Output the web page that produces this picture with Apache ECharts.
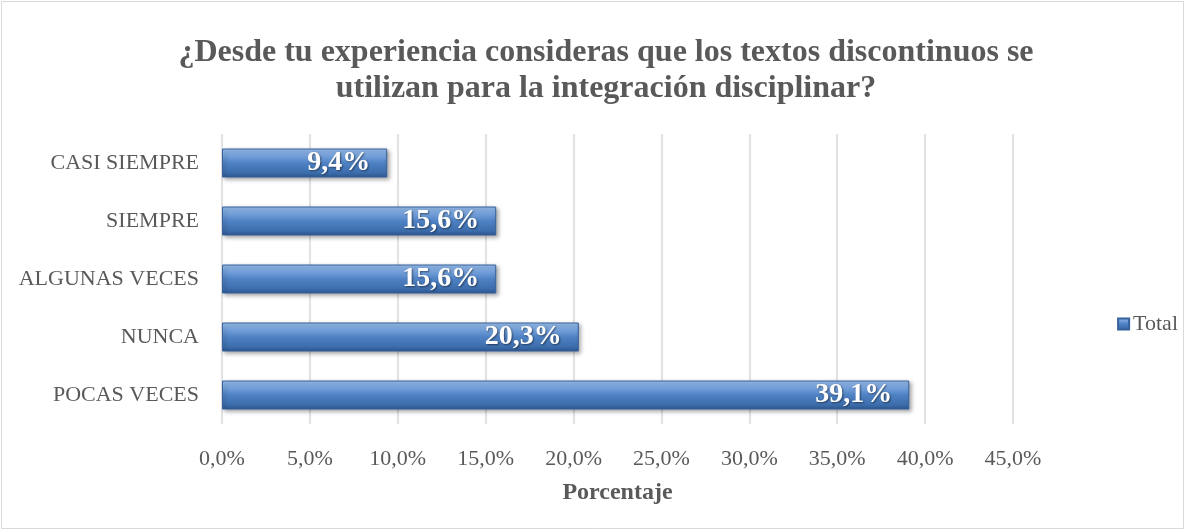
<!DOCTYPE html>
<html>
<head>
<meta charset="utf-8">
<script src="https://cdn.jsdelivr.net/npm/echarts@6/dist/echarts.min.js"></script>
<style>
  html, body { margin: 0; padding: 0; background: #fff; }
  #chart { width: 1186px; height: 531px; }
</style>
</head>
<body>
<div id="chart"></div>
<script>
  // categorias de abajo hacia arriba
  var categorias = ['POCAS VECES', 'NUNCA', 'ALGUNAS VECES', 'SIEMPRE', 'CASI SIEMPRE'];
  var valores = [39.1, 20.3, 15.6, 15.6, 9.4];
  var ticks = [0, 5, 10, 15, 20, 25, 30, 35, 40, 45];

  var fuente = '"Liberation Serif", "DejaVu Serif", serif';
  var gris = '#595959';

  function pct(v) {
    return v.toFixed(1).replace('.', ',') + '%';
  }

  var chart = echarts.init(document.getElementById('chart'));
  var option = {
    backgroundColor: '#fff',
    textStyle: { fontFamily: fuente },
    graphic: [{
      type: 'rect',
      shape: { x: 1.5, y: 1.5, width: 1182, height: 527 },
      style: { fill: 'none', stroke: '#d9d9d9', lineWidth: 1 }
    }],
    title: {
      text: '¿Desde tu experiencia consideras que los textos discontinuos se\nutilizan para la integración disciplinar?',
      left: 601,
      textAlign: 'center',
      top: 30,
      textStyle: {
        fontFamily: fuente,
        fontWeight: 'bold',
        fontSize: 32,
        color: gris,
        lineHeight: 36
      }
    },
    legend: {
      right: 3,
      top: 308,
      itemWidth: 11,
      itemHeight: 11,
      icon: 'rect',
      itemGap: 4,
      textStyle: { fontFamily: fuente, fontSize: 22, color: gris, padding: [0, 0, 0, -1] },
      data: ['Total']
    },
    grid: { left: 222, right: 173, top: 134, bottom: 107 },
    xAxis: {
      type: 'value',
      min: 0,
      max: 45,
      interval: 5,
      name: 'Porcentaje',
      nameLocation: 'middle',
      nameGap: 57,
      nameTextStyle: { fontFamily: fuente, fontWeight: 'bold', fontSize: 24, color: gris },
      axisLine: { show: false },
      axisTick: { show: false },
      axisLabel: {
        fontFamily: fuente, fontSize: 22, color: gris, margin: 24,
        formatter: function (v) { return ticks.indexOf(v) >= 0 ? pct(v) : ''; }
      },
      splitLine: { lineStyle: { color: '#d9d9d9', width: 1.5 } }
    },
    yAxis: {
      type: 'category',
      data: categorias,
      axisLine: { show: false },
      axisTick: { show: false },
      axisLabel: { fontFamily: fuente, fontSize: 22, color: gris, margin: 23 }
    },
    series: [{
      name: 'Total',
      type: 'bar',
      data: valores,
      barWidth: 29,
      itemStyle: {
        color: new echarts.graphic.LinearGradient(0, 0, 0, 1, [
          { offset: 0, color: '#9cc1ec' },
          { offset: 0.18, color: '#7fa9e0' },
          { offset: 0.5, color: '#4f82c4' },
          { offset: 0.85, color: '#3c6cab' },
          { offset: 1, color: '#2c5690' }
        ]),
        borderColor: '#35619c',
        borderWidth: 1,
        shadowColor: 'rgba(0,0,0,0.35)',
        shadowBlur: 4,
        shadowOffsetX: 2,
        shadowOffsetY: 2
      },
      label: {
        show: true,
        position: 'insideRight',
        distance: 17,
        fontFamily: fuente,
        fontWeight: 'bold',
        fontSize: 28,
        color: '#fff',
        textShadowColor: 'rgba(0,0,0,0.5)',
        textShadowBlur: 2,
        textShadowOffsetX: 1,
        textShadowOffsetY: 1,
        formatter: function (p) { return pct(p.value); }
      }
    }]
  };
  chart.setOption(option);
</script>
</body>
</html>
